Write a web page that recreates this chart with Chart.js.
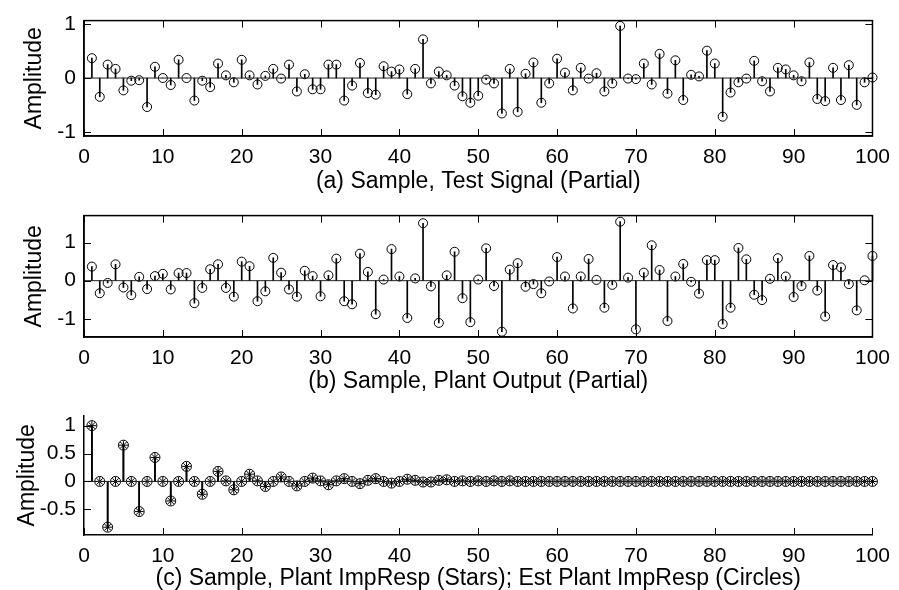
<!DOCTYPE html>
<html>
<head>
<meta charset="utf-8">
<script src="https://cdn.jsdelivr.net/npm/chart.js@4.4.1/dist/chart.umd.min.js"></script>
<style>
  body { margin: 0; background: #fff; overflow: hidden; }
  .wrap { position: absolute; left: 0; width: 899px; }
</style>
</head>
<body>
<div class="wrap" style="top:0;height:195px"><canvas id="chartA"></canvas></div>
<div class="wrap" style="top:195px;height:200px"><canvas id="chartB"></canvas></div>
<div class="wrap" style="top:395px;height:198px"><canvas id="chartC"></canvas></div>
<script>
const samples = Array.from({ length: 100 }, (_, i) => i + 1);

const testSignal = [
  0.37, -0.35, 0.25, 0.17, -0.23, -0.05, -0.04, -0.54, 0.21, 0.0,
  -0.13, 0.34, 0.0, -0.42, -0.05, -0.17, 0.27, 0.05, -0.08, 0.34,
  0.05, -0.12, 0.04, 0.17, -0.01, 0.25, -0.25, 0.07, -0.21, -0.21,
  0.25, 0.25, -0.42, -0.14, 0.28, -0.28, -0.31, 0.22, 0.12, 0.16,
  -0.3, 0.17, 0.72, -0.1, 0.12, 0.05, -0.14, -0.34, -0.46, -0.33,
  -0.03, -0.1, -0.66, 0.17, -0.63, 0.08, 0.29, -0.46, -0.1, 0.36,
  0.1, -0.23, 0.19, -0.01, 0.09, -0.25, -0.1, 0.97, -0.01, -0.02,
  0.27, -0.12, 0.45, -0.29, 0.33, -0.41, 0.06, 0.03, 0.51, 0.27,
  -0.72, -0.27, -0.08, -0.01, 0.32, -0.06, -0.25, 0.19, 0.16, 0.05,
  -0.06, 0.29, -0.39, -0.43, 0.19, -0.41, 0.24, -0.5, -0.08, 0.01,
];

const plantOutput = [
  0.37, -0.33, -0.06, 0.43, -0.18, -0.38, 0.1, -0.22, 0.12, 0.18,
  -0.23, 0.2, 0.2, -0.59, -0.19, 0.3, 0.43, -0.19, -0.42, 0.5,
  0.38, -0.54, -0.28, 0.6, 0.21, -0.23, -0.42, 0.26, 0.12, -0.41,
  0.14, 0.58, -0.54, -0.62, 0.71, 0.23, -0.88, 0.03, 0.83, 0.11,
  -0.98, 0.06, 1.51, -0.15, -1.11, 0.14, 0.76, -0.46, -1.09, 0.03,
  0.85, -0.14, -1.34, 0.29, 0.46, -0.16, -0.09, -0.33, -0.02, 0.62,
  0.11, -0.73, 0.11, 0.57, 0.02, -0.71, -0.11, 1.55, 0.08, -1.28,
  0.21, 0.93, 0.28, -1.06, 0.11, 0.44, -0.03, -0.34, 0.54, 0.54,
  -1.14, -0.71, 0.86, 0.56, -0.37, -0.51, 0.05, 0.59, 0.11, -0.43,
  -0.14, 0.65, -0.26, -0.94, 0.41, 0.35, -0.09, -0.78, 0.01, 0.65,
];

const plantImpResp = [
  1.0, 0, -0.82, 0, 0.65, 0, -0.54, 0, 0.43, 0,
  -0.35, 0, 0.27, 0, -0.23, 0, 0.18, 0.01, -0.15, 0,
  0.13, 0.01, -0.09, 0, 0.08, 0, -0.08, 0, 0.06, 0.01,
  -0.06, 0.01, 0.05, 0, -0.04, 0.02, 0.05, 0, -0.03, 0,
  0.04, 0.02, -0.01, -0.01, 0.02, 0.03, 0, 0.01, 0, 0.01,
  0, 0.01, 0, 0.01, 0, 0, 0, 0, 0, 0,
  0, 0, 0, 0, 0, 0, 0, 0, 0, 0,
  0, 0, 0, 0, 0, 0, 0, 0, 0, 0,
  0, 0, 0, 0, 0, 0, 0, 0, 0, 0,
  0, 0, 0, 0, 0, 0, 0, 0, 0, 0,
];

const estImpResp = [
  1.0, 0, -0.82, 0, 0.65, 0, -0.54, 0, 0.43, 0,
  -0.35, 0, 0.27, 0, -0.23, 0, 0.18, 0.01, -0.15, 0,
  0.13, 0.01, -0.09, 0, 0.08, 0, -0.08, 0, 0.06, 0.01,
  -0.06, 0.01, 0.05, 0, -0.04, 0.02, 0.05, 0, -0.03, 0,
  0.04, 0.02, -0.01, -0.01, 0.02, 0.03, 0, 0.01, 0, 0.01,
  0, 0.01, 0, 0.01, 0, 0, 0, 0, 0, 0,
  0, 0, 0, 0, 0, 0, 0, 0, 0, 0,
  0, 0, 0, 0, 0, 0, 0, 0, 0, 0,
  0, 0, 0, 0, 0, 0, 0, 0, 0, 0,
  0, 0, 0, 0, 0, 0, 0, 0, 0, 0,
];

const xTicks = [0, 10, 20, 30, 40, 50, 60, 70, 80, 90, 100];
const yTicksAB = [-1, 0, 1];
const yTicksC = [-0.5, 0, 0.5, 1];

Chart.defaults.font.family = "'Liberation Sans', Arial, sans-serif";
Chart.defaults.font.size = 21;
Chart.defaults.color = "#000";
Chart.defaults.animation = false;

// MATLAB style ticks pointing into the plot
const innerTicks = {
  id: "innerTicks",
  afterDraw(chart, args, opts) {
    const { ctx, chartArea: a, scales } = chart;
    const len = 7;
    ctx.save();
    ctx.strokeStyle = "#000";
    ctx.lineWidth = 1;
    ctx.beginPath();
    scales.x.ticks.forEach((t) => {
      const px = Math.round(scales.x.getPixelForValue(t.value)) + 0.5;
      ctx.moveTo(px, a.bottom);
      ctx.lineTo(px, a.bottom - len);
      if (opts.box) {
        ctx.moveTo(px, a.top);
        ctx.lineTo(px, a.top + len);
      }
    });
    scales.y.ticks.forEach((t) => {
      const py = Math.round(scales.y.getPixelForValue(t.value)) + 0.5;
      ctx.moveTo(a.left, py);
      ctx.lineTo(a.left + len, py);
      if (opts.box) {
        ctx.moveTo(a.right, py);
        ctx.lineTo(a.right - len, py);
      }
    });
    ctx.stroke();
    if (opts.box) {
      ctx.lineWidth = 1.5;
      ctx.strokeRect(a.left, a.top, a.right - a.left, a.bottom - a.top);
    }
    ctx.restore();
  },
};

function stemSets(values, marker, radius) {
  return [
    {
      type: "bar",
      data: values.map((v, i) => ({ x: samples[i], y: [0, v] })),
      backgroundColor: "#000",
      barThickness: 1,
      grouped: false,
      clip: false,
    },
    {
      type: "scatter",
      data: values.map((v, i) => ({ x: samples[i], y: v })),
      pointStyle: marker,
      pointRadius: radius,
      pointBorderColor: "#000",
      pointBackgroundColor: "rgba(0,0,0,0)",
      pointBorderWidth: 1,
      clip: false,
    },
  ];
}

function makeStem(id, cfg) {
  const datasets = [
    {
      type: "line",
      data: [{ x: 0, y: 0 }, { x: 100, y: 0 }],
      borderColor: "#222",
      borderWidth: 1,
      pointRadius: 0,
    },
  ];
  cfg.series.forEach((s) => datasets.push(...stemSets(s.values, s.marker, s.radius)));

  new Chart(document.getElementById(id), {
    type: "bar",
    data: { datasets },
    options: {
      responsive: true,
      maintainAspectRatio: false,
      layout: { padding: { top: cfg.top, right: 20, left: 0, bottom: 0 } },
      plugins: {
        legend: { display: false },
        tooltip: { enabled: false },
        innerTicks: { box: cfg.box },
      },
      scales: {
        x: {
          type: "linear",
          min: 0,
          max: 100,
          offset: false,
          afterBuildTicks: (s) => { s.ticks = xTicks.map((v) => ({ value: v })); },
          afterFit: (s) => { s.height = cfg.xHeight; },
          grid: { display: false, drawTicks: false },
          border: { display: true, color: "#000", width: 1.5 },
          ticks: { padding: 9, maxRotation: 0 },
          title: {
            display: true,
            text: cfg.title,
            font: { size: 23 },
            padding: { top: 0, bottom: cfg.titlePad },
          },
        },
        y: {
          min: cfg.yMin,
          max: cfg.yMax,
          afterBuildTicks: (s) => { s.ticks = cfg.yTicks.map((v) => ({ value: v })); },
          afterFit: (s) => { s.width = 84; },
          grid: { display: false, drawTicks: false },
          border: { display: true, color: "#000", width: 1.5 },
          ticks: { padding: 8, callback: (v) => String(v) },
          title: {
            display: true,
            text: "Amplitude",
            font: { size: 23 },
            padding: { top: cfg.yTitlePad, bottom: 0 },
          },
        },
      },
    },
    plugins: [innerTicks],
  });
}

makeStem("chartA", {
  series: [{ values: testSignal, marker: "circle", radius: 4.5 }],
  yMin: -1.08, yMax: 1.07, yTicks: yTicksAB,
  top: 12, xHeight: 59, titlePad: 0, yTitlePad: 21, box: true,
  title: "(a) Sample, Test Signal (Partial)",
});

makeStem("chartB", {
  series: [{ values: plantOutput, marker: "circle", radius: 4.5 }],
  yMin: -1.48, yMax: 1.71, yTicks: yTicksAB,
  top: 17, xHeight: 58, titlePad: 0, yTitlePad: 21, box: true,
  title: "(b) Sample, Plant Output (Partial)",
});

makeStem("chartC", {
  series: [
    { values: plantImpResp, marker: "star", radius: 4.5 },
    { values: estImpResp, marker: "circle", radius: 5 },
  ],
  yMin: -0.96, yMax: 1.18, yTicks: yTicksC,
  top: 17, xHeight: 58, titlePad: 1, yTitlePad: 14, box: false,
  title: "(c) Sample, Plant ImpResp (Stars); Est Plant ImpResp (Circles)",
});
</script>
</body>
</html>
